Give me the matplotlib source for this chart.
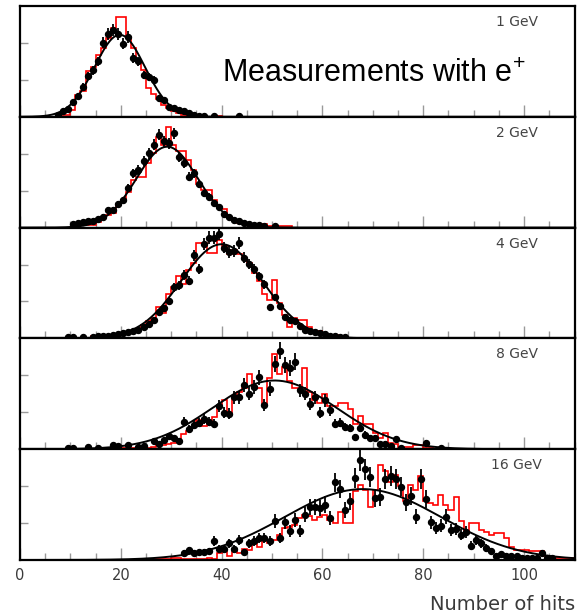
import numpy as np
import matplotlib
matplotlib.use("Agg")
import matplotlib.pyplot as plt
from matplotlib.ticker import MultipleLocator

plt.rcParams["mathtext.fontset"] = "custom"
plt.rcParams["mathtext.rm"] = "Liberation Sans"
plt.rcParams["mathtext.default"] = "rm"

# beam energies, one panel each (top to bottom)
energies = ["1 GeV", "2 GeV", "4 GeV", "8 GeV", "16 GeV"]

# measured points: first bin centre + contiguous bin contents (panel units, 0..1)
data_start = [8.5, 12.5, 16.5, 26.5, 32.5]
data_1 = [0.05, 0.07, 0.13, 0.19, 0.27, 0.37, 0.42, 0.50, 0.67, 0.75, 0.78, 0.75, 0.66, 0.72,
          0.53, 0.50, 0.38, 0.36, 0.33, 0.17, 0.15, 0.09, 0.08, 0.06, 0.05, 0.03, 0.02, 0.01]
data_2 = [0.05, 0.06, 0.06, 0.08, 0.10, 0.16, 0.16, 0.21, 0.25, 0.36, 0.49, 0.52, 0.60, 0.67,
          0.75, 0.84, 0.78, 0.76, 0.85, 0.64, 0.58, 0.46, 0.49, 0.39, 0.31, 0.28, 0.22, 0.19,
          0.12, 0.10, 0.07, 0.06, 0.04, 0.03, 0.02]
data_3 = [0.02, 0.02, 0.03, 0.04, 0.05, 0.06, 0.07, 0.08, 0.10, 0.13, 0.17, 0.24, 0.27, 0.34,
          0.46, 0.48, 0.57, 0.52, 0.75, 0.63, 0.85, 0.91, 0.91, 0.94, 0.82, 0.78, 0.79, 0.86,
          0.73, 0.67, 0.63, 0.56, 0.49, 0.28, 0.37, 0.29, 0.19, 0.17, 0.16, 0.11, 0.08, 0.07,
          0.06, 0.05, 0.04, 0.02, 0.02]
data_4 = [0.07, 0.045, 0.08, 0.12, 0.10, 0.075, 0.25, 0.18, 0.22, 0.24, 0.27, 0.25, 0.23, 0.39,
          0.33, 0.32, 0.47, 0.47, 0.58, 0.50, 0.56, 0.65, 0.40, 0.54, 0.77, 0.89, 0.76, 0.73,
          0.79, 0.53, 0.50, 0.41, 0.47, 0.33, 0.44, 0.35, 0.23, 0.24, 0.20, 0.19, 0.11, 0.19,
          0.13, 0.10, 0.10, 0.05, 0.05, 0.03, 0.09, 0.015]
data_5 = [0.06, 0.09, 0.06, 0.07, 0.07, 0.08, 0.17, 0.10, 0.10, 0.15, 0.10, 0.18, 0.07, 0.15,
          0.17, 0.20, 0.20, 0.17, 0.35, 0.20, 0.34, 0.26, 0.36, 0.26, 0.41, 0.48, 0.48, 0.47,
          0.50, 0.38, 0.70, 0.64, 0.45, 0.53, 0.74, 0.90, 0.82, 0.75, 0.56, 0.57, 0.73, 0.76,
          0.73, 0.66, 0.52, 0.58, 0.39, 0.73, 0.55, 0.34, 0.29, 0.31, 0.39, 0.27, 0.28, 0.23,
          0.25, 0.13, 0.18, 0.15, 0.11, 0.08, 0.04, 0.05, 0.04, 0.04, 0.04, 0.02, 0.02, 0.02,
          0.02, 0.06, 0.02, 0.02]

# isolated points in the tails
tail_x = [[7.5, 36.5, 38.5, 43.5],
          [10.5, 11.5, 47.5, 48.5, 50.5],
          [9.5, 10.5, 12.5, 14.5, 15.5, 63.5, 64.5],
          [9.5, 10.5, 13.5, 15.5, 18.5, 19.5, 21.5, 23.5, 24.5, 80.5, 83.5],
          []]
tail_y = [[0.02, 0.01, 0.005, 0.005],
          [0.03, 0.04, 0.02, 0.01, 0.01],
          [0.01, 0.01, 0.015, 0.01, 0.02, 0.01, 0.01],
          [0.015, 0.015, 0.02, 0.015, 0.04, 0.03, 0.04, 0.02, 0.03, 0.06, 0.01],
          []]

# simulation histograms: first bin edge + contents of unit-width bins
sim_start = [7, 12, 14, 20, 26]
sim_1 = [0.0, 0.02, 0.02, 0.06, 0.20, 0.23, 0.41, 0.45, 0.56, 0.62, 0.71, 0.80, 0.90, 0.90,
         0.72, 0.62, 0.50, 0.42, 0.26, 0.21, 0.16, 0.11, 0.08, 0.05, 0.03, 0.02, 0.01, 0.01,
         0.0, 0.0, 0.0, 0.01, 0.01, 0.0]
sim_2 = [0.02, 0.02, 0.02, 0.05, 0.09, 0.11, 0.13, 0.21, 0.25, 0.32, 0.43, 0.46, 0.46, 0.58,
         0.67, 0.82, 0.75, 0.91, 0.75, 0.69, 0.69, 0.61, 0.52, 0.39, 0.34, 0.34, 0.25, 0.19,
         0.17, 0.10, 0.07, 0.04, 0.04, 0.02, 0.02, 0.03, 0.03, 0.01, 0.01, 0.01, 0.01, 0.01]
sim_3 = [0.02, 0.02, 0.01, 0.01, 0.02, 0.03, 0.05, 0.06, 0.06, 0.08, 0.12, 0.16, 0.18, 0.28,
         0.23, 0.40, 0.46, 0.56, 0.49, 0.62, 0.68, 0.86, 0.86, 0.77, 0.77, 0.89, 0.83, 0.76,
         0.80, 0.76, 0.72, 0.68, 0.59, 0.52, 0.40, 0.35, 0.53, 0.32, 0.21, 0.10, 0.18, 0.17,
         0.17, 0.10, 0.07, 0.07, 0.04, 0.03, 0.03, 0.02, 0.01]
sim_4 = [0.01, 0.01, 0.01, 0.01, 0.02, 0.01, 0.02, 0.04, 0.04, 0.05, 0.06, 0.08, 0.14, 0.16,
         0.20, 0.26, 0.21, 0.25, 0.29, 0.39, 0.44, 0.32, 0.46, 0.52, 0.55, 0.68, 0.55, 0.55,
         0.40, 0.64, 0.86, 0.68, 0.74, 0.62, 0.55, 0.55, 0.73, 0.52, 0.44, 0.42, 0.50, 0.39,
         0.39, 0.42, 0.42, 0.36, 0.23, 0.30, 0.23, 0.23, 0.15, 0.10, 0.15, 0.06, 0.05, 0.02,
         0.02, 0.02, 0.04, 0.04, 0.01, 0.01]
sim_5 = [0.01, 0.01, 0.01, 0.01, 0.02, 0.02, 0.01, 0.01, 0.01, 0.01, 0.01, 0.02, 0.01, 0.06,
         0.09, 0.04, 0.10, 0.06, 0.10, 0.09, 0.15, 0.12, 0.18, 0.15, 0.18, 0.23, 0.29, 0.30,
         0.32, 0.38, 0.41, 0.40, 0.36, 0.39, 0.41, 0.36, 0.33, 0.43, 0.33, 0.33, 0.62, 0.68,
         0.63, 0.48, 0.63, 0.86, 0.80, 0.70, 0.77, 0.67, 0.53, 0.68, 0.63, 0.76, 0.53, 0.51,
         0.50, 0.59, 0.50, 0.45, 0.57, 0.35, 0.24, 0.33, 0.33, 0.27, 0.25, 0.23, 0.24, 0.24,
         0.20, 0.12, 0.09, 0.09, 0.09, 0.08, 0.08, 0.08, 0.04, 0.02, 0.02, 0.02, 0.02, 0.02]

# gaussian fits to the data: mean, sigma, amplitude
fit_mean = [19.8, 29.2, 40.0, 50.5, 68.0]
fit_sigma = [5.0, 6.1, 8.1, 12.2, 15.5]
fit_amp = [0.74, 0.73, 0.85, 0.62, 0.64]

# events per unit panel height (sets the statistical error bars)
events_scale = [270, 300, 300, 140, 90]

datas = [data_1, data_2, data_3, data_4, data_5]
sims = [sim_1, sim_2, sim_3, sim_4, sim_5]

W, H = 578, 616
fig = plt.figure(figsize=(W / 100, H / 100), dpi=100)

left, right = 20, 574.5
top, ph = 6, 110.8
axes = []
for i in range(5):
    y0 = H - (top + ph * (i + 1))
    ax = fig.add_axes([left / W, y0 / H, (right - left) / W, ph / H])
    axes.append(ax)

xs = np.linspace(0, 110, 600)
for i, ax in enumerate(axes):
    y = np.array(datas[i])
    x = data_start[i] + np.arange(len(y))
    x = np.concatenate([x, tail_x[i]])
    y = np.concatenate([y, tail_y[i]])
    err = np.sqrt(y / events_scale[i])

    sim = np.array(sims[i])
    edges = sim_start[i] + np.arange(len(sim) + 1)
    ax.stairs(sim, edges, color="red", lw=1.2, zorder=2)

    ax.plot(xs, fit_amp[i] * np.exp(-0.5 * ((xs - fit_mean[i]) / fit_sigma[i]) ** 2),
            color="black", lw=1.4, zorder=3)
    ax.errorbar(x, y, yerr=err, fmt="o", color="black", ms=4.3, elinewidth=1.3,
                capsize=0, zorder=4)

    ax.set_xlim(0, 110)
    ax.set_ylim(0, 1)
    ax.xaxis.set_major_locator(MultipleLocator(20))
    ax.xaxis.set_minor_locator(MultipleLocator(5))
    ax.set_yticks([1 / 3, 2 / 3])
    ax.tick_params(axis="x", which="major", direction="in", length=9, width=1, color="#999999",
                   top=False, labelsize=10.5, labelcolor="#3a3a3a", pad=6)
    ax.tick_params(axis="x", which="minor", direction="in", length=5, width=1, color="#999999",
                   top=False)
    ax.tick_params(axis="y", direction="in", length=6, width=1, color="#999999",
                   labelleft=False, right=False)
    if i < 4:
        ax.tick_params(axis="x", labelbottom=False)
    for sp in ax.spines.values():
        sp.set_linewidth(1.6)
        sp.set_color("black")

    ax.text(0.896, 0.855, energies[i], transform=ax.transAxes, ha="center", va="center",
            fontsize=10, color="#444444")

axes[0].text(0.364, 0.31, "Measurements with e$^{+}$", transform=axes[0].transAxes,
             ha="left", va="baseline", fontsize=22, color="black",
             family="Liberation Sans")

fig.text(575 / W, 1 - 605 / H, "Number of hits", ha="right", va="center",
         fontsize=14, color="#3a3a3a")

fig.savefig("out.png", dpi=100)
